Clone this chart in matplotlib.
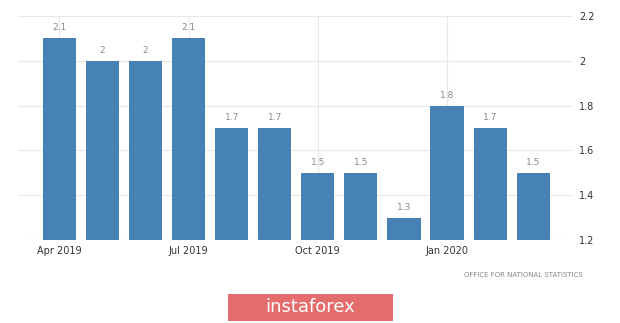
import matplotlib.pyplot as plt
from matplotlib.patches import FancyBboxPatch

# UK CPI yearly rate, monthly
months = ['Apr 2019', 'May 2019', 'Jun 2019', 'Jul 2019', 'Aug 2019', 'Sep 2019',
          'Oct 2019', 'Nov 2019', 'Dec 2019', 'Jan 2020', 'Feb 2020', 'Mar 2020']
values = [2.1, 2.0, 2.0, 2.1, 1.7, 1.7, 1.5, 1.5, 1.3, 1.8, 1.7, 1.5]
y_ticks = [1.2, 1.4, 1.6, 1.8, 2.0, 2.2]
y_tick_labels = ['1.2', '1.4', '1.6', '1.8', '2', '2.2']
shown_months = ['Apr 2019', 'Jul 2019', 'Oct 2019', 'Jan 2020']

bar_color = '#4682b4'
grid_color = '#e8e8e8'

fig = plt.figure(figsize=(6.2, 3.23), dpi=100)
ax = fig.add_axes([0.029, 0.257, 0.8935, 0.6935])

x = list(range(len(months)))
ax.bar(x, values, width=0.77, color=bar_color, zorder=3)

for xi, v in zip(x, values):
    ax.text(xi, v + 0.027, f'{v:g}', ha='center', va='bottom', fontsize=6.5,
            color='#8a8a8a', zorder=4)

ax.set_ylim(1.2, 2.2)
ax.set_xlim(-0.96, 11.9)
ax.set_yticks(y_ticks)
ax.set_yticklabels(y_tick_labels)
ax.yaxis.tick_right()

tick_pos = [months.index(m) for m in shown_months]
ax.set_xticks(tick_pos)
ax.set_xticklabels(shown_months)

ax.tick_params(axis='y', length=0, pad=5, labelsize=7, labelcolor='#333333')
ax.tick_params(axis='x', length=0, pad=4, labelsize=7, labelcolor='#333333')

ax.grid(True, color=grid_color, linewidth=0.8, zorder=0)
for side in ['top', 'right', 'left', 'bottom']:
    ax.spines[side].set_visible(False)

fig.text(0.94, 0.148, 'OFFICE FOR NATIONAL STATISTICS', ha='right', va='center',
         fontsize=5, color='#888888')

# watermark banner
banner = FancyBboxPatch((228 / 620, 2 / 323), 165 / 620, 27 / 323,
                        boxstyle='square,pad=0', transform=fig.transFigure,
                        facecolor='#e36d6d', edgecolor='none')
fig.patches.append(banner)
fig.text(310 / 620, 15.5 / 323, 'instaforex', ha='center', va='center',
         fontsize=13, color='white')

fig.savefig('out.png', dpi=100)
